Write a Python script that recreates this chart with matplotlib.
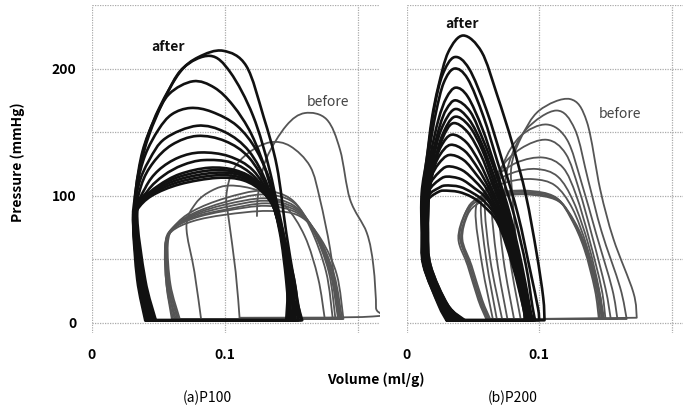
import numpy as np
import matplotlib
matplotlib.use("Agg")
import matplotlib.pyplot as plt
from matplotlib.path import Path
from matplotlib.patches import PathPatch

plt.rcParams['font.family'] = ['Noto Sans CJK JP', 'DejaVu Sans']

# each loop: (volume ml/g, pressure mmHg) from bottom-left, up, over the top, down to bottom-right
after_p100 = [
    [(0.041,2),(0.035,34),(0.031,79),(0.032,97),(0.035,118),(0.041,144),(0.051,170),(0.066,197),(0.080,209),(0.0985,214),(0.116,202),(0.129,162),(0.139,123),(0.146,71),(0.152,33),(0.157,2)],
    [(0.042,2),(0.036,34),(0.032,79),(0.033,100),(0.036,122),(0.043,148),(0.054,175),(0.068,200),(0.0887,210),(0.104,197),(0.121,163),(0.134,118),(0.143,70),(0.149,30),(0.152,2)],
    [(0.043,2),(0.036,34),(0.032,79),(0.033,105),(0.038,135),(0.047,160),(0.058,180),(0.076,190),(0.092,185),(0.106,171),(0.120,148),(0.132,115),(0.141,75),(0.147,35),(0.150,2)],
    [(0.044,2),(0.037,34),(0.032,80),(0.034,108),(0.040,132),(0.050,152),(0.060,164),(0.074,169),(0.090,166),(0.109,155),(0.124,135),(0.136,105),(0.144,70),(0.150,33),(0.153,2)],
    [(0.045,2),(0.038,34),(0.032,80),(0.035,108),(0.043,128),(0.055,145),(0.079,155),(0.100,150),(0.118,135),(0.132,108),(0.141,72),(0.146,33),(0.148,2)],
    [(0.046,2),(0.038,34),(0.033,82),(0.037,108),(0.046,126),(0.060,140),(0.079,147),(0.100,143),(0.118,130),(0.132,105),(0.142,70),(0.149,32),(0.152,2)],
    [(0.047,2),(0.039,34),(0.033,84),(0.040,106),(0.050,120),(0.065,130),(0.082,134),(0.103,131),(0.121,120),(0.134,98),(0.143,68),(0.150,30),(0.155,2)],
    [(0.048,2),(0.040,34),(0.034,86),(0.042,104),(0.054,116),(0.068,124),(0.084,128),(0.105,126),(0.122,115),(0.135,95),(0.144,66),(0.151,30),(0.158,2)],
    [(0.045,2),(0.038,34),(0.032,84),(0.038,97),(0.050,108),(0.066,117),(0.088,122),(0.108,120),(0.124,111),(0.136,92),(0.143,64),(0.147,30),(0.146,2)],
    [(0.043,2),(0.037,34),(0.031,82),(0.036,94),(0.048,106),(0.066,115),(0.090,120),(0.110,118),(0.126,108),(0.137,90),(0.144,62),(0.148,30),(0.147,2)],
    [(0.041,2),(0.035,34),(0.031,80),(0.035,92),(0.047,104),(0.066,113),(0.092,118),(0.112,116),(0.127,106),(0.138,88),(0.145,60),(0.149,28),(0.148,2)],
    [(0.040,2),(0.034,34),(0.031,78),(0.034,90),(0.046,102),(0.066,111),(0.093,116),(0.113,114),(0.128,104),(0.139,86),(0.146,58),(0.150,28),(0.151,2)],
    [(0.042,2),(0.035,34),(0.031,78),(0.034,89),(0.045,100),(0.066,109),(0.094,114),(0.114,112),(0.129,102),(0.140,84),(0.147,56),(0.153,28),(0.155,2)],
]

before_p100_first = [(0.124,84),(0.125,102),(0.131,129),(0.146,155),(0.160,165),(0.1764,160),(0.1865,136),(0.194,97),(0.2065,71),(0.2115,45),(0.2135,12),(0.211,5),(0.111,4)]
before_p100 = [
    [(0.111,3),(0.108,40),(0.103,80),(0.101,100),(0.106,120),(0.118,134),(0.134,142),(0.149,139),(0.164,123),(0.1714,97),(0.179,58),(0.184,18),(0.1865,3)],
    [(0.082,3),(0.077,40),(0.071,76),(0.078,94),(0.090,104),(0.104,108),(0.125,104),(0.145,92),(0.160,68),(0.170,35),(0.175,3)],
    [(0.066,3),(0.059,30),(0.057,62),(0.062,76),(0.076,88),(0.100,98),(0.128,104),(0.150,97),(0.164,75),(0.176,40),(0.181,3)],
    [(0.065,3),(0.058,30),(0.056,62),(0.061,75),(0.076,86),(0.100,95),(0.128,101),(0.151,95),(0.166,73),(0.178,40),(0.183,3)],
    [(0.064,3),(0.058,30),(0.056,62),(0.061,75),(0.076,85),(0.100,93),(0.130,98),(0.152,92),(0.167,72),(0.179,40),(0.185,3)],
    [(0.063,3),(0.057,30),(0.056,61),(0.061,74),(0.076,84),(0.100,91),(0.130,96),(0.153,90),(0.168,71),(0.180,39),(0.186,3)],
    [(0.062,3),(0.057,30),(0.055,61),(0.060,74),(0.076,83),(0.100,89),(0.131,94),(0.154,88),(0.169,70),(0.181,39),(0.187,3)],
    [(0.061,3),(0.056,30),(0.055,60),(0.060,73),(0.076,82),(0.100,88),(0.131,92),(0.155,86),(0.170,68),(0.182,38),(0.188,3)],
    [(0.060,3),(0.056,30),(0.055,60),(0.060,72),(0.076,80),(0.100,85),(0.132,88),(0.156,84),(0.172,66),(0.184,38),(0.189,3)],
]

after_p200 = [
    [(0.032,2),(0.025,13),(0.0126,45),(0.0113,71),(0.0113,102),(0.0151,129),(0.0189,160),(0.0239,186),(0.0314,213),(0.0427,226),(0.0566,213),(0.068,180),(0.080,140),(0.090,100),(0.098,55),(0.103,20),(0.104,2)],
    [(0.034,2),(0.026,13),(0.013,45),(0.012,71),(0.012,102),(0.016,135),(0.021,170),(0.027,195),(0.036,209),(0.047,200),(0.060,168),(0.072,128),(0.084,85),(0.093,42),(0.099,12),(0.100,2)],
    [(0.036,2),(0.027,13),(0.014,45),(0.012,71),(0.013,102),(0.017,135),(0.022,165),(0.028,189),(0.036,200),(0.046,192),(0.058,162),(0.069,125),(0.081,85),(0.090,45),(0.095,12),(0.097,2)],
    [(0.038,2),(0.028,14),(0.015,45),(0.013,71),(0.014,102),(0.018,132),(0.024,160),(0.030,177),(0.037,185),(0.046,178),(0.057,153),(0.067,122),(0.078,85),(0.087,45),(0.093,12),(0.095,2)],
    [(0.040,2),(0.029,14),(0.016,45),(0.014,71),(0.015,102),(0.019,130),(0.025,155),(0.030,168),(0.037,175),(0.048,166),(0.058,143),(0.067,118),(0.077,85),(0.086,45),(0.092,12),(0.094,2)],
    [(0.042,2),(0.030,14),(0.017,45),(0.015,71),(0.016,102),(0.020,128),(0.026,152),(0.036,168),(0.047,160),(0.057,140),(0.066,115),(0.076,85),(0.086,45),(0.092,12),(0.096,2)],
    [(0.044,2),(0.031,14),(0.018,45),(0.016,71),(0.017,102),(0.021,126),(0.027,148),(0.036,162),(0.047,155),(0.057,136),(0.065,113),(0.075,84),(0.085,45),(0.091,12),(0.093,2)],
    [(0.043,2),(0.031,14),(0.018,45),(0.016,71),(0.017,102),(0.021,124),(0.027,145),(0.035,157),(0.046,150),(0.056,132),(0.064,111),(0.074,84),(0.085,45),(0.092,12),(0.095,2)],
    [(0.041,2),(0.030,14),(0.017,45),(0.015,71),(0.016,102),(0.020,122),(0.026,139),(0.034,148),(0.045,142),(0.055,126),(0.063,108),(0.073,83),(0.084,45),(0.091,12),(0.094,2)],
    [(0.039,2),(0.029,14),(0.016,45),(0.014,71),(0.015,102),(0.019,118),(0.025,132),(0.033,140),(0.044,135),(0.054,121),(0.062,106),(0.072,83),(0.083,45),(0.090,12),(0.092,2)],
    [(0.037,2),(0.028,14),(0.015,45),(0.013,71),(0.014,100),(0.018,114),(0.024,125),(0.032,132),(0.043,128),(0.053,116),(0.061,104),(0.071,82),(0.082,45),(0.090,12),(0.093,2)],
    [(0.035,2),(0.027,14),(0.014,45),(0.013,71),(0.014,98),(0.018,110),(0.024,118),(0.031,123),(0.042,120),(0.052,111),(0.060,101),(0.071,81),(0.082,45),(0.089,12),(0.091,2)],
    [(0.033,2),(0.026,14),(0.014,45),(0.012,71),(0.013,96),(0.018,106),(0.024,112),(0.030,115),(0.041,113),(0.051,106),(0.060,98),(0.070,80),(0.081,45),(0.089,12),(0.090,2)],
    [(0.031,2),(0.025,14),(0.013,45),(0.012,71),(0.013,94),(0.018,102),(0.024,106),(0.029,108),(0.040,107),(0.050,102),(0.059,95),(0.070,79),(0.081,45),(0.088,12),(0.089,2)],
    [(0.030,2),(0.024,14),(0.013,45),(0.012,71),(0.013,92),(0.018,99),(0.024,103),(0.028,104),(0.039,103),(0.049,99),(0.058,92),(0.069,78),(0.080,45),(0.088,12),(0.090,2)],
]

before_p200 = [
    [(0.091,3),(0.084,50),(0.080,97),(0.079,123),(0.086,145),(0.100,167),(0.1233,176),(0.136,158),(0.146,105),(0.156,66),(0.171,24),(0.1736,4)],
    [(0.086,3),(0.078,50),(0.074,97),(0.077,125),(0.090,152),(0.113,167),(0.127,152),(0.137,112),(0.147,72),(0.161,28),(0.166,3)],
    [(0.081,3),(0.073,50),(0.069,97),(0.073,125),(0.086,147),(0.1057,156),(0.121,144),(0.132,110),(0.143,70),(0.155,27),(0.159,3)],
    [(0.076,3),(0.068,50),(0.064,97),(0.070,120),(0.086,137),(0.1057,144),(0.120,133),(0.130,105),(0.140,68),(0.150,27),(0.154,3)],
    [(0.072,3),(0.063,50),(0.059,95),(0.066,113),(0.083,126),(0.103,130),(0.118,122),(0.128,100),(0.138,65),(0.147,27),(0.150,3)],
    [(0.068,3),(0.060,50),(0.056,92),(0.063,108),(0.080,118),(0.098,121),(0.114,115),(0.126,95),(0.137,62),(0.145,27),(0.148,3)],
    [(0.065,3),(0.057,45),(0.052,88),(0.060,103),(0.077,111),(0.0955,113),(0.112,108),(0.125,90),(0.136,60),(0.144,27),(0.147,3)],
    [(0.061,3),(0.055,18),(0.047,45),(0.040,68),(0.045,88),(0.052,97),(0.065,102),(0.090,104),(0.112,99),(0.124,82),(0.134,58),(0.142,26),(0.145,3)],
    [(0.062,3),(0.056,18),(0.048,45),(0.041,67),(0.046,87),(0.053,96),(0.066,101),(0.090,103),(0.113,98),(0.125,81),(0.135,57),(0.143,26),(0.146,3)],
    [(0.060,3),(0.054,18),(0.046,45),(0.039,66),(0.044,86),(0.052,95),(0.066,100),(0.090,102),(0.113,97),(0.126,80),(0.136,56),(0.144,26),(0.148,3)],
    [(0.063,3),(0.057,18),(0.049,45),(0.042,66),(0.046,85),(0.054,94),(0.067,99),(0.090,101),(0.114,96),(0.127,79),(0.137,55),(0.145,26),(0.149,3)],
]

after_color = '#111111'
before_color = '#555555'
grid_color = '#aaaaaa'


def loop_path(pts, closed=True):
    # smooth curve through the read points (Catmull-Rom as cubic Bezier)
    pts = np.asarray(pts, float)
    ext = np.vstack([pts[0], pts, pts[-1]])
    verts = [pts[0]]
    codes = [Path.MOVETO]
    for i in range(1, len(ext) - 2):
        p0, p1, p2, p3 = ext[i - 1], ext[i], ext[i + 1], ext[i + 2]
        verts += [p1 + (p2 - p0) / 6, p2 - (p3 - p1) / 6, p2]
        codes += [Path.CURVE4] * 3
    if closed:
        verts.append(pts[0])
        codes.append(Path.LINETO)
    return Path(verts, codes)


def draw_loops(ax, loops, color, lw, closed=True, z=2):
    for lp in loops:
        ax.add_patch(PathPatch(loop_path(lp, closed), fill=False, edgecolor=color,
                               lw=lw, joinstyle='round', capstyle='round', zorder=z))


fig = plt.figure(figsize=(6.9, 4.15), dpi=100)
ax1 = fig.add_axes([92/690, 1-333/415, 288/690, 328/415])
ax2 = fig.add_axes([406.7/690, 1-333/415, 276.3/690, 328/415])

for ax, xmax in ((ax1, 0.2165), (ax2, 0.2085)):
    ax.set_xlim(0, xmax)
    ax.set_ylim(-8, 250)
    for s in ax.spines.values():
        s.set_visible(False)
    ax.set_xticks([0, 0.1, 0.2])
    ax.set_xticklabels(['0', '0.1', ''])
    ax.set_yticks([0, 50, 100, 150, 200, 250])
    ax.grid(True, color=grid_color, lw=0.9, linestyle=(0, (1, 1)), zorder=0)
    ax.tick_params(length=0, pad=11, labelsize=10)
    for t in ax.get_xticklabels():
        t.set_fontweight('bold')

ax1.set_yticklabels(['0', '', '100', '', '200', ''])
for t in ax1.get_yticklabels():
    t.set_fontweight('bold')
ax2.set_yticklabels([])

draw_loops(ax1, before_p100, before_color, 1.3)
draw_loops(ax1, [before_p100_first], before_color, 1.3, closed=False)
draw_loops(ax1, after_p100, after_color, 1.9, z=3)
draw_loops(ax2, before_p200, before_color, 1.3)
draw_loops(ax2, after_p200, after_color, 1.9, z=3)

ax1.text(0.0571, 217, 'after', ha='center', va='center', fontsize=10, fontweight='bold', color='#111111')
ax1.text(0.1774, 174, 'before', ha='center', va='center', fontsize=10, color='#444444')
ax2.text(0.0417, 235, 'after', ha='center', va='center', fontsize=10, fontweight='bold', color='#111111')
ax2.text(0.161, 164, 'before', ha='center', va='center', fontsize=10, color='#444444')

fig.text(376/690, 1-380/415, 'Volume (ml/g)', ha='center', va='center', fontsize=10, fontweight='bold')
fig.text(18/690, 1-162/415, 'Pressure (mmHg)', ha='center', va='center', rotation=90, fontsize=10, fontweight='bold')
fig.text(207/690, 1-398/415, '(a)P100', ha='center', va='center', fontsize=10)
fig.text(513/690, 1-398/415, '(b)P200', ha='center', va='center', fontsize=10)

fig.savefig('out.png', dpi=100)
